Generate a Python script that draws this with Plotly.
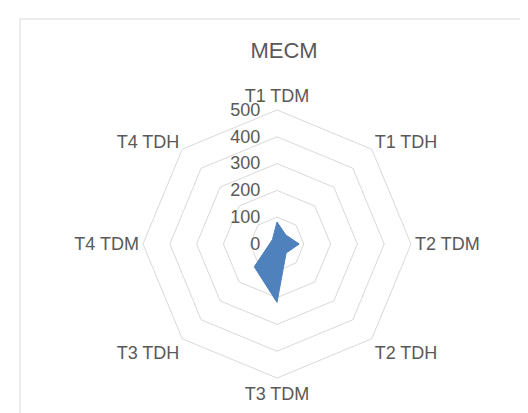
import plotly.graph_objects as go

categories = ["T1 TDM", "T1 TDH", "T2 TDM", "T2 TDH", "T3 TDM", "T3 TDH", "T4 TDM", "T4 TDH"]
values = [82, 47, 83, 48, 218, 120, 28, 24]
radial_ticks = [0, 100, 200, 300, 400, 500]
title_text = "MECM"

W, H = 528, 413
cx, cy, R = 269, 236, 134

fig = go.Figure()
fig.add_trace(go.Scatterpolar(
    r=values + values[:1],
    theta=categories + categories[:1],
    mode="lines",
    fill="toself",
    fillcolor="#4F81BD",
    line=dict(color="#4F81BD", width=1),
    hoverinfo="skip",
    showlegend=False,
))

font_family = "Liberation Sans"
fig.update_layout(
    width=W, height=H,
    margin=dict(l=0, r=0, t=0, b=0),
    paper_bgcolor="white",
    plot_bgcolor="white",
    showlegend=False,
    title=dict(text=title_text, x=276 / W, xanchor="center", y=1 - 42 / H, yanchor="middle",
               font=dict(family=font_family, size=22, color="#595959")),
    polar=dict(
        domain=dict(x=[(cx - R) / W, (cx + R) / W], y=[(H - cy - R) / H, (H - cy + R) / H]),
        bgcolor="white",
        gridshape="linear",
        radialaxis=dict(
            range=[0, 500],
            tickvals=radial_ticks,
            ticktext=[str(v) for v in radial_ticks],
            angle=90,
            side="counterclockwise",
            showline=False,
            ticks="outside",
            ticklen=10,
            tickcolor="rgba(0,0,0,0)",
            gridcolor="#d9d9d9",
            gridwidth=1,
            tickfont=dict(family=font_family, size=18, color="#595959"),
            tickangle=90,
        ),
        angularaxis=dict(
            rotation=90,
            direction="clockwise",
            showgrid=False,
            showline=True,
            linecolor="#d9d9d9",
            linewidth=1,
            ticks="",
            tickfont=dict(family=font_family, size=18, color="#595959"),
        ),
    ),
    shapes=[dict(type="rect", xref="paper", yref="paper",
                 x0=12 / W, y0=-0.05, x1=1.05, y1=1 - 11 / H,
                 line=dict(color="#d9d9d9", width=1), fillcolor="rgba(0,0,0,0)", layer="below")],
)

fig.write_html("out.html")
